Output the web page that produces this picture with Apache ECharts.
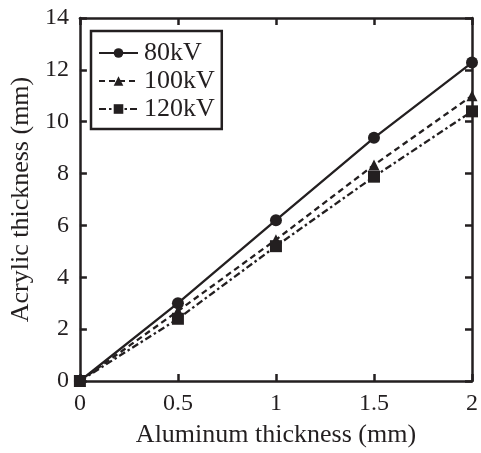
<!DOCTYPE html>
<html><head><meta charset="utf-8">
<script src="https://cdn.jsdelivr.net/npm/echarts@6/dist/echarts.min.js"></script>
<style>html,body{margin:0;padding:0;background:#fff}#c{width:481px;height:453px}</style>
</head><body><div id="c"></div>
<script>
const xValues = [0, 0.5, 1, 1.5, 2];
const kv80 = [0, 3.0, 6.2, 9.38, 12.28];
const kv100 = [0, 2.7, 5.45, 8.33, 11.0];
const kv120 = [0, 2.4, 5.2, 7.88, 10.4];
const seriesNames = ['80kV', '100kV', '120kV'];
const xTitle = 'Aluminum thickness (mm)';
const yTitle = 'Acrylic thickness (mm)';

const font = "'Liberation Serif', 'Times New Roman', serif";
const black = '#231f20';
function pairs(v){ return xValues.map((x,i)=>[x, v[i]]); }
const axLine = {show:true, onZero:false, lineStyle:{color:black, width:2.5}};
const tick = {show:true, inside:true, length:7, lineStyle:{color:black, width:2.5}};
const chart = echarts.init(document.getElementById('c'), null, {renderer:'canvas'});
chart.setOption({
  animation:false,
  backgroundColor:'#fff',
  grid:{left:77, right:5, top:18, bottom:72, containLabel:false},
  legend:{
    orient:'vertical', left:91, top:31,
    padding:[9,7,7,7], itemGap:2, itemWidth:39, itemHeight:12,
    borderColor:black, borderWidth:2.5, backgroundColor:'#fff',
    textStyle:{fontFamily:font, fontSize:26, color:black, lineHeight:26, padding:[0,0,0,1]},
    data:seriesNames
  },
  xAxis:[{
    type:'value', min:0, max:2, interval:0.5,
    name:xTitle, nameLocation:'middle', nameGap:41,
    nameTextStyle:{fontFamily:font, fontSize:26, color:black},
    axisLine:axLine, axisTick:tick,
    axisLabel:{fontFamily:font, fontSize:24, color:black, margin:11, formatter:v=>String(v)},
    splitLine:{show:false}
  },{
    type:'value', position:'top', min:0, max:2, interval:0.5,
    axisLine:axLine, axisTick:tick,
    axisLabel:{show:false}, splitLine:{show:false}
  }],
  yAxis:[{
    type:'value', min:0, max:14, interval:2,
    name:yTitle, nameLocation:'middle', nameGap:44,
    nameTextStyle:{fontFamily:font, fontSize:26, color:black},
    axisLine:axLine, axisTick:tick,
    axisLabel:{fontFamily:font, fontSize:24, color:black, margin:11},
    splitLine:{show:false}
  },{
    type:'value', position:'right', min:0, max:14, interval:2,
    axisLine:axLine, axisTick:tick,
    axisLabel:{show:false}, splitLine:{show:false}
  }],
  series:[
    {name:seriesNames[0], type:'line', data:pairs(kv80), symbol:'circle', symbolSize:12,
     clip:false, itemStyle:{color:black}, lineStyle:{color:black, width:2.3, type:'solid'}},
    {name:seriesNames[1], type:'line', data:pairs(kv100), symbol:'triangle', symbolSize:11,
     clip:false, itemStyle:{color:black}, lineStyle:{color:black, width:2.3, type:[6,4]}},
    {name:seriesNames[2], type:'line', data:pairs(kv120), symbol:'rect', symbolSize:12,
     clip:false, itemStyle:{color:black}, lineStyle:{color:black, width:2.3, type:[7,3,2.5,3]}}
  ]
});
</script></body></html>
